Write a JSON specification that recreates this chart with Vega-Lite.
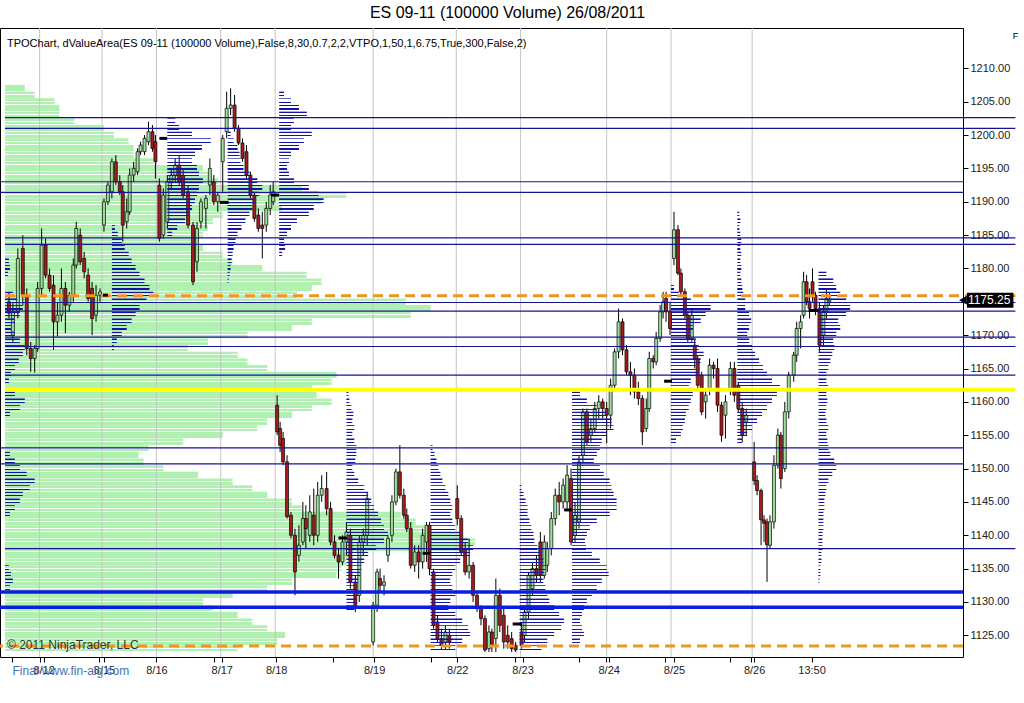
{
"$schema":"https://vega.github.io/schema/vega-lite/v6.json",
"width":963,"height":629,
"autosize":{"type":"none"},
"padding":{"left":0,"top":28,"right":61,"bottom":46},
"background":"white",
"config":{"font":"Liberation Sans","view":{"stroke":"black","strokeWidth":1},"axis":{"grid":false,"domain":false}},
"title":{"text":"ES 09-11 (100000 Volume)  26/08/2011","fontSize":16,"fontWeight":"normal","anchor":"middle","dx":26,"offset":7,"color":"black","font":"Liberation Sans"},
"datasets":{
"candles":[
{"t":1,"o":1175,"h":1176.5,"l":1172.5,"c":1173.3},{"t":2,"o":1170,"h":1175,"l":1169,"c":1173.5},{"t":3.25,"o":1173.5,"h":1183,"l":1172.5,"c":1181.5},{"t":4.5,"o":1183,"h":1185,"l":1174.5,"c":1176},{"t":5.5,"o":1176,"h":1177,"l":1167,"c":1168},{"t":6.5,"o":1168,"h":1169,"l":1164.5,"c":1166.5},{"t":7.5,"o":1166.5,"h":1168.5,"l":1164.4,"c":1168},{"t":8.25,"o":1168,"h":1178,"l":1167.5,"c":1177},{"t":9.25,"o":1177,"h":1186,"l":1176,"c":1183.5},{"t":10.25,"o":1183.5,"h":1184.5,"l":1178.5,"c":1179},{"t":11.25,"o":1179,"h":1180,"l":1176.5,"c":1177},{"t":12.25,"o":1177.5,"h":1179,"l":1167.8,"c":1172},{"t":13.25,"o":1172,"h":1175,"l":1169.8,"c":1173},{"t":14.25,"o":1173,"h":1180,"l":1172,"c":1177},{"t":15.25,"o":1177,"h":1178,"l":1170.3,"c":1174.5},{"t":16.25,"o":1174.5,"h":1176.5,"l":1173.5,"c":1176},{"t":17.25,"o":1176,"h":1181.5,"l":1175,"c":1180.5},{"t":18,"o":1180.5,"h":1187,"l":1180,"c":1186},{"t":19,"o":1185,"h":1186,"l":1180.5,"c":1181},{"t":20,"o":1181.5,"h":1182.5,"l":1178.5,"c":1179.5},{"t":21,"o":1179,"h":1180,"l":1175,"c":1175.5},{"t":22,"o":1177,"h":1178,"l":1170,"c":1172.5},{"t":23,"o":1173,"h":1177.5,"l":1172,"c":1176},{"t":24,"o":1176,"h":1177,"l":1175,"c":1176.5},
{"t":25,"o":1186.5,"h":1190.5,"l":1185.5,"c":1190},{"t":26,"o":1190,"h":1193,"l":1189.5,"c":1192.5},{"t":27,"o":1191.5,"h":1196.5,"l":1190.5,"c":1196},{"t":28,"o":1196,"h":1197,"l":1192.5,"c":1193},{"t":29,"o":1193,"h":1194,"l":1191,"c":1191.5},{"t":29.75,"o":1191.5,"h":1192.5,"l":1184,"c":1186.5},{"t":30.75,"o":1187,"h":1190.5,"l":1186,"c":1188.5},{"t":31.5,"o":1188.5,"h":1195,"l":1188,"c":1194},{"t":32.5,"o":1194,"h":1196,"l":1193,"c":1195},{"t":33.5,"o":1194.5,"h":1198,"l":1194,"c":1197.5},{"t":34.25,"o":1197.5,"h":1199,"l":1197,"c":1198.5},{"t":35.25,"o":1197.5,"h":1200,"l":1197,"c":1199.5},{"t":36.25,"o":1199,"h":1202,"l":1198.5,"c":1200.5},{"t":37.25,"o":1200.5,"h":1201.5,"l":1197.5,"c":1198},{"t":38,"o":1199,"h":1200,"l":1193.5,"c":1196},
{"t":39,"o":1192.5,"h":1193.5,"l":1184,"c":1184.5},{"t":40,"o":1185,"h":1192,"l":1184.5,"c":1191},{"t":41,"o":1187,"h":1194,"l":1186,"c":1193},{"t":42,"o":1193,"h":1195,"l":1192,"c":1194},{"t":43,"o":1194,"h":1196.5,"l":1193,"c":1195.5},{"t":44,"o":1195.5,"h":1197,"l":1192.5,"c":1193},{"t":45,"o":1194,"h":1195,"l":1190.5,"c":1191},{"t":46.25,"o":1191.5,"h":1192.5,"l":1186,"c":1186.5},{"t":47.5,"o":1186.5,"h":1187,"l":1177.5,"c":1178},{"t":48.5,"o":1181,"h":1187,"l":1179.5,"c":1186},{"t":49.5,"o":1187,"h":1190.5,"l":1186,"c":1190},{"t":50.75,"o":1189,"h":1191,"l":1186,"c":1190.5},{"t":51.75,"o":1192.5,"h":1196.5,"l":1191,"c":1195},{"t":52.75,"o":1193,"h":1194,"l":1189.5,"c":1190},{"t":53.75,"o":1190,"h":1191.5,"l":1188.5,"c":1191},
{"t":55,"o":1196,"h":1200,"l":1191.5,"c":1199.5},{"t":56,"o":1200.5,"h":1206.5,"l":1199.5,"c":1204},{"t":57,"o":1204,"h":1207,"l":1203,"c":1204.5},{"t":58,"o":1204.5,"h":1206,"l":1200.5,"c":1201},{"t":59,"o":1201,"h":1201.5,"l":1198.5,"c":1198.8},{"t":60,"o":1198.8,"h":1199.5,"l":1196,"c":1196.5},{"t":61,"o":1197.5,"h":1198.5,"l":1193.5,"c":1194},{"t":62,"o":1194,"h":1194.5,"l":1190.5,"c":1191},{"t":63,"o":1191,"h":1191.5,"l":1187,"c":1187.5},{"t":64,"o":1188,"h":1189,"l":1185.5,"c":1186},{"t":65,"o":1186.5,"h":1188.5,"l":1181.5,"c":1186},{"t":66,"o":1186.5,"h":1190,"l":1185.5,"c":1189},{"t":67,"o":1189,"h":1192.5,"l":1188,"c":1191},{"t":67.75,"o":1190,"h":1193,"l":1189.5,"c":1191.5},
{"t":68.75,"o":1159.5,"h":1161,"l":1155,"c":1155.5},{"t":69.5,"o":1156,"h":1157,"l":1152.5,"c":1153.5},{"t":70.25,"o":1154.5,"h":1155.5,"l":1150.5,"c":1151},{"t":71.25,"o":1151,"h":1152,"l":1142.5,"c":1142.8},{"t":72.25,"o":1143,"h":1143.5,"l":1139.5,"c":1140},{"t":73.25,"o":1140,"h":1141,"l":1131,"c":1134.5},{"t":74.25,"o":1137,"h":1141.5,"l":1136,"c":1138.5},{"t":75.25,"o":1139,"h":1145,"l":1138.5,"c":1142.5},{"t":76,"o":1142.5,"h":1144.5,"l":1138,"c":1141},{"t":77,"o":1140,"h":1146,"l":1139,"c":1143.5},{"t":78,"o":1143,"h":1147,"l":1138.5,"c":1140},{"t":79,"o":1140,"h":1148,"l":1139,"c":1146},{"t":80,"o":1146,"h":1149,"l":1145,"c":1147},{"t":81.25,"o":1147,"h":1149.5,"l":1143,"c":1144},{"t":82.25,"o":1144,"h":1145,"l":1138.5,"c":1139},{"t":83.25,"o":1139,"h":1140,"l":1136.5,"c":1137},{"t":84.25,"o":1137,"h":1138,"l":1133.5,"c":1136},{"t":85.25,"o":1136,"h":1140,"l":1135.5,"c":1139},{"t":86.25,"o":1139,"h":1142,"l":1137,"c":1140.5},{"t":87.25,"o":1140,"h":1141,"l":1132,"c":1133},{"t":88.5,"o":1133,"h":1134,"l":1128.5,"c":1129.5},{"t":89.5,"o":1131,"h":1140,"l":1130,"c":1139},{"t":90.5,"o":1139,"h":1141,"l":1137,"c":1140},{"t":91.5,"o":1140,"h":1146.5,"l":1138.5,"c":1145.5},
{"t":93,"o":1124,"h":1130,"l":1123.5,"c":1129.5},{"t":94,"o":1129.5,"h":1135,"l":1128.5,"c":1134.5},{"t":94.75,"o":1133.5,"h":1135,"l":1131.5,"c":1132.5},{"t":95.75,"o":1132.5,"h":1134,"l":1131,"c":1133},{"t":96.75,"o":1137,"h":1140,"l":1136,"c":1139.5},{"t":97.75,"o":1140,"h":1146,"l":1139,"c":1145},{"t":98.75,"o":1145,"h":1150,"l":1144.5,"c":1149.5},{"t":99.75,"o":1149.5,"h":1153.5,"l":1145.5,"c":1146},{"t":100.75,"o":1146,"h":1147,"l":1142.5,"c":1143},{"t":101.5,"o":1143,"h":1144,"l":1140.5,"c":1141},{"t":102.5,"o":1141,"h":1142,"l":1135,"c":1135.5},{"t":103.5,"o":1135.5,"h":1138.5,"l":1134.5,"c":1137.5},{"t":104.5,"o":1137.5,"h":1138.5,"l":1133.5,"c":1136},{"t":105.5,"o":1136,"h":1141,"l":1135,"c":1140},{"t":106.5,"o":1139,"h":1142,"l":1136,"c":1141.5},{"t":107.25,"o":1141.5,"h":1142,"l":1134,"c":1135},{"t":108.25,"o":1134.5,"h":1135,"l":1126,"c":1126.5},{"t":109.25,"o":1127,"h":1128,"l":1124,"c":1124.5},{"t":110.25,"o":1124.5,"h":1126,"l":1122.8,"c":1123.5},{"t":111.25,"o":1124,"h":1126.5,"l":1122.8,"c":1125.5},{"t":112.25,"o":1125,"h":1126,"l":1123,"c":1124},
{"t":114.25,"o":1145.5,"h":1147.5,"l":1141.5,"c":1142.5},{"t":115.25,"o":1142.5,"h":1143,"l":1137,"c":1137.5},{"t":116.25,"o":1138,"h":1139,"l":1134,"c":1134.5},{"t":117.25,"o":1134.5,"h":1139.5,"l":1133.5,"c":1135.5},{"t":118.25,"o":1135.5,"h":1136,"l":1130,"c":1131},{"t":119.25,"o":1131,"h":1131.5,"l":1128.5,"c":1129},{"t":120.25,"o":1129,"h":1129.5,"l":1126.5,"c":1127.5},{"t":121.25,"o":1127.5,"h":1128,"l":1122.5,"c":1122.8},{"t":122.25,"o":1123,"h":1126.5,"l":1122.5,"c":1125.5},{"t":123,"o":1125.5,"h":1126,"l":1122.5,"c":1123.5},{"t":124,"o":1124.5,"h":1133.5,"l":1122.5,"c":1131},{"t":125,"o":1131,"h":1132,"l":1125.5,"c":1126.5},{"t":126,"o":1128,"h":1129,"l":1123,"c":1124},{"t":127,"o":1125,"h":1126.5,"l":1123,"c":1124},{"t":128,"o":1124.5,"h":1125.5,"l":1122.5,"c":1123},{"t":129,"o":1123.5,"h":1124,"l":1122.5,"c":1122.8},
{"t":130.5,"o":1125.5,"h":1127,"l":1123,"c":1123.5},{"t":131.25,"o":1125,"h":1129.5,"l":1124,"c":1128.5},{"t":132.25,"o":1128.5,"h":1134.5,"l":1127.5,"c":1134},{"t":133.25,"o":1132,"h":1136,"l":1131,"c":1135},{"t":134.25,"o":1135,"h":1137,"l":1133,"c":1134},{"t":135.25,"o":1139,"h":1140.5,"l":1133,"c":1134},{"t":136.25,"o":1134,"h":1140,"l":1133.5,"c":1139},{"t":137,"o":1135.5,"h":1139,"l":1134.5,"c":1138},{"t":138,"o":1138,"h":1143.5,"l":1137,"c":1142.5},{"t":139,"o":1142.5,"h":1147,"l":1141.5,"c":1146},{"t":140,"o":1146,"h":1148,"l":1143,"c":1145},{"t":141,"o":1145,"h":1148.5,"l":1144,"c":1147.5},{"t":142,"o":1145,"h":1150.5,"l":1144,"c":1149},{"t":143,"o":1148.5,"h":1150,"l":1138.5,"c":1139},{"t":144,"o":1140,"h":1145,"l":1139,"c":1143},{"t":145,"o":1142,"h":1152,"l":1141,"c":1151},{"t":146,"o":1152,"h":1159,"l":1151,"c":1158.5},{"t":147,"o":1158.5,"h":1159,"l":1153.5,"c":1154},{"t":148,"o":1155,"h":1157.5,"l":1154,"c":1156},{"t":149,"o":1156,"h":1160,"l":1155.5,"c":1159},{"t":150,"o":1159,"h":1161,"l":1157.5,"c":1160},{"t":151,"o":1160,"h":1160.5,"l":1157.5,"c":1159},{"t":152,"o":1159,"h":1160,"l":1153.8,"c":1158},
{"t":153,"o":1158,"h":1163.5,"l":1156,"c":1162.5},{"t":154,"o":1162.5,"h":1168,"l":1162,"c":1167.5},{"t":155,"o":1167.5,"h":1174,"l":1166.5,"c":1172},{"t":156,"o":1172,"h":1172.5,"l":1167,"c":1167.8},{"t":157,"o":1167.8,"h":1168.5,"l":1164,"c":1164.5},{"t":158,"o":1164.5,"h":1166,"l":1161,"c":1164},{"t":159,"o":1164,"h":1165,"l":1160.5,"c":1161.5},{"t":160,"o":1161.5,"h":1163,"l":1159.5,"c":1160.5},{"t":161,"o":1160.5,"h":1161,"l":1153.5,"c":1155.5},{"t":162,"o":1156,"h":1160.5,"l":1155.5,"c":1159},{"t":162.75,"o":1159,"h":1167.5,"l":1158.5,"c":1166.5},{"t":163.75,"o":1166.5,"h":1167,"l":1165,"c":1166},{"t":164.5,"o":1166,"h":1170.5,"l":1165.5,"c":1169.5},{"t":165.5,"o":1169.5,"h":1174.5,"l":1169,"c":1173.5},{"t":166.25,"o":1173.5,"h":1176.5,"l":1172.5,"c":1175},{"t":167,"o":1175.5,"h":1176.5,"l":1172,"c":1173.5},{"t":168,"o":1173.5,"h":1175,"l":1170,"c":1171},
{"t":169,"o":1181.5,"h":1188.5,"l":1180.5,"c":1185.8},{"t":170,"o":1185.8,"h":1186.5,"l":1179,"c":1179.3},{"t":170.75,"o":1179.3,"h":1180,"l":1176,"c":1176.5},{"t":171.75,"o":1176.5,"h":1177,"l":1172.5,"c":1173},{"t":172.5,"o":1173,"h":1173.5,"l":1169,"c":1169.5},{"t":173.5,"o":1169.5,"h":1174,"l":1169,"c":1173},{"t":174.25,"o":1168.5,"h":1169.5,"l":1165,"c":1166.5},{"t":175,"o":1166.5,"h":1167,"l":1162,"c":1162.5},{"t":176,"o":1164,"h":1164.5,"l":1158,"c":1158.5},{"t":177,"o":1160,"h":1162,"l":1157.5,"c":1161},{"t":178,"o":1162,"h":1166.5,"l":1161,"c":1165.5},{"t":179,"o":1165.5,"h":1166,"l":1163.5,"c":1165},{"t":180,"o":1165,"h":1166.5,"l":1158.5,"c":1159.5},{"t":181,"o":1159.5,"h":1160,"l":1154,"c":1155},{"t":182,"o":1158,"h":1161,"l":1154.5,"c":1160},{"t":183.25,"o":1162,"h":1166,"l":1161,"c":1165},{"t":184.25,"o":1165,"h":1166,"l":1160,"c":1161},{"t":185.25,"o":1162.5,"h":1163,"l":1158.5,"c":1159},{"t":186.25,"o":1159,"h":1160,"l":1154,"c":1155},{"t":187.25,"o":1157,"h":1159,"l":1155,"c":1158},
{"t":189.25,"o":1151,"h":1154,"l":1147.5,"c":1148.2},{"t":190,"o":1148.2,"h":1149,"l":1146,"c":1146.7},{"t":191,"o":1146.7,"h":1147,"l":1138.5,"c":1142.3},{"t":191.75,"o":1142.3,"h":1143,"l":1139,"c":1141.8},{"t":192.5,"o":1142,"h":1142.5,"l":1133,"c":1138.6},{"t":193.25,"o":1138.5,"h":1143,"l":1138,"c":1142},{"t":194.25,"o":1142,"h":1152,"l":1141,"c":1150.5},{"t":195.25,"o":1150.5,"h":1156,"l":1150,"c":1155},{"t":196,"o":1155,"h":1155.5,"l":1147,"c":1148.5},{"t":197,"o":1150,"h":1160,"l":1149.5,"c":1158.5},{"t":198,"o":1158.5,"h":1164.5,"l":1157.5,"c":1164},{"t":199.25,"o":1164,"h":1167.5,"l":1163,"c":1167},{"t":200,"o":1167,"h":1172,"l":1166,"c":1171},{"t":201,"o":1171,"h":1173,"l":1168,"c":1172},{"t":201.75,"o":1173,"h":1179.5,"l":1172.5,"c":1178},{"t":202.5,"o":1178,"h":1179,"l":1174.5,"c":1175},{"t":203.25,"o":1175,"h":1177,"l":1172.5,"c":1174},{"t":204,"o":1178,"h":1180,"l":1175,"c":1176},{"t":204.75,"o":1176,"h":1176.5,"l":1173,"c":1174},{"t":205.75,"o":1174,"h":1175,"l":1167.5,"c":1168.5},{"t":206.75,"o":1170,"h":1174.5,"l":1168.5,"c":1173.5},{"t":207.5,"o":1173.5,"h":1177,"l":1172.5,"c":1175.5},{"t":208.25,"o":1175,"h":1176.5,"l":1174.5,"c":1175.25}
],
"green":[
{"p":1207,"v":20},{"p":1206,"v":30},{"p":1205,"v":50},{"p":1204,"v":55},{"p":1203,"v":55},{"p":1202,"v":70},{"p":1201,"v":100},{"p":1200,"v":110},{"p":1199,"v":125},{"p":1198,"v":130},{"p":1197,"v":130},{"p":1196,"v":150},{"p":1195,"v":200},{"p":1194,"v":205},{"p":1193,"v":215},{"p":1192,"v":300},{"p":1191,"v":345},{"p":1190,"v":320},{"p":1189,"v":280},{"p":1188,"v":220},{"p":1187,"v":210},{"p":1186,"v":205},{"p":1185,"v":200},{"p":1184,"v":195},{"p":1183,"v":200},{"p":1182,"v":220},{"p":1181,"v":230},{"p":1180,"v":260},{"p":1179,"v":305},{"p":1178,"v":320},{"p":1177,"v":310},{"p":1176,"v":295},{"p":1175,"v":405},{"p":1174,"v":430},{"p":1173,"v":410},{"p":1172,"v":310},{"p":1171,"v":290},{"p":1170,"v":245},{"p":1169,"v":205},{"p":1168,"v":185},{"p":1167,"v":235},{"p":1166,"v":245},{"p":1165,"v":265},{"p":1164,"v":335},{"p":1163,"v":330},{"p":1162,"v":310},{"p":1161,"v":315},{"p":1160,"v":330},{"p":1159,"v":310},{"p":1158,"v":290},{"p":1157,"v":265},{"p":1156,"v":255},{"p":1155,"v":220},{"p":1154,"v":180},{"p":1153,"v":145},{"p":1152,"v":135},{"p":1151,"v":140},{"p":1150,"v":160},{"p":1149,"v":195},{"p":1148,"v":230},{"p":1147,"v":250},{"p":1146,"v":265},{"p":1145,"v":290},{"p":1144,"v":300},{"p":1143,"v":400},{"p":1142,"v":415},{"p":1141,"v":430},{"p":1140,"v":460},{"p":1139,"v":475},{"p":1138,"v":470},{"p":1137,"v":350},{"p":1136,"v":345},{"p":1135,"v":340},{"p":1134,"v":335},{"p":1133,"v":290},{"p":1132,"v":265},{"p":1131,"v":230},{"p":1130,"v":200},{"p":1129,"v":210},{"p":1128,"v":235},{"p":1127,"v":250},{"p":1126,"v":265},{"p":1125,"v":283},{"p":1124,"v":275},{"p":1123,"v":235}
],
"prof":[
{"s":0,"p":1181,"v":4},{"s":0,"p":1180,"v":5},{"s":0,"p":1179,"v":3},{"s":0,"p":1176,"v":8},{"s":0,"p":1175,"v":12},{"s":0,"p":1174,"v":18},{"s":0,"p":1173,"v":15},{"s":0,"p":1172,"v":10},{"s":0,"p":1171,"v":6},{"s":0,"p":1170,"v":10},{"s":0,"p":1169,"v":15},{"s":0,"p":1168,"v":20},{"s":0,"p":1167,"v":18},{"s":0,"p":1166,"v":14},{"s":0,"p":1165,"v":10},{"s":0,"p":1164,"v":6},{"s":0,"p":1163,"v":4},{"s":0,"p":1161,"v":10},{"s":0,"p":1160,"v":20},{"s":0,"p":1159,"v":15},{"s":0,"p":1158,"v":5},{"s":0,"p":1152,"v":5},{"s":0,"p":1151,"v":10},{"s":0,"p":1150,"v":15},{"s":0,"p":1149,"v":22},{"s":0,"p":1148,"v":30},{"s":0,"p":1147,"v":25},{"s":0,"p":1146,"v":18},{"s":0,"p":1145,"v":15},{"s":0,"p":1144,"v":10},{"s":0,"p":1143,"v":5},{"s":0,"p":1135,"v":4},{"s":0,"p":1134,"v":6},{"s":0,"p":1133,"v":8},{"s":0,"p":1132,"v":5},
{"s":27,"p":1186,"v":3},{"s":27,"p":1185,"v":6},{"s":27,"p":1184,"v":10},{"s":27,"p":1183,"v":13},{"s":27,"p":1182,"v":17},{"s":27,"p":1181,"v":20},{"s":27,"p":1180,"v":24},{"s":27,"p":1179,"v":28},{"s":27,"p":1178,"v":33},{"s":27,"p":1177,"v":38},{"s":27,"p":1176,"v":42},{"s":27,"p":1175,"v":35},{"s":27,"p":1174,"v":28},{"s":27,"p":1173,"v":24},{"s":27,"p":1172,"v":20},{"s":27,"p":1171,"v":15},{"s":27,"p":1170,"v":10},{"s":27,"p":1169,"v":5},{"s":27,"p":1168,"v":2},
{"s":41,"p":1202,"v":8},{"s":41,"p":1201,"v":12},{"s":41,"p":1200,"v":25},{"s":41,"p":1199,"v":44},{"s":41,"p":1198,"v":35},{"s":41,"p":1197,"v":28},{"s":41,"p":1196,"v":25},{"s":41,"p":1195,"v":30},{"s":41,"p":1194,"v":32},{"s":41,"p":1193,"v":36},{"s":41,"p":1192,"v":32},{"s":41,"p":1191,"v":30},{"s":41,"p":1190,"v":28},{"s":41,"p":1189,"v":25},{"s":41,"p":1188,"v":22},{"s":41,"p":1187,"v":18},{"s":41,"p":1186,"v":10},{"s":41,"p":1185,"v":5},
{"s":56.25,"p":1200,"v":3},{"s":56.25,"p":1199,"v":6},{"s":56.25,"p":1198,"v":10},{"s":56.25,"p":1197,"v":12},{"s":56.25,"p":1196,"v":13},{"s":56.25,"p":1195,"v":16},{"s":56.25,"p":1194,"v":22},{"s":56.25,"p":1193,"v":30},{"s":56.25,"p":1192,"v":35},{"s":56.25,"p":1191,"v":32},{"s":56.25,"p":1190,"v":27},{"s":56.25,"p":1189,"v":25},{"s":56.25,"p":1188,"v":22},{"s":56.25,"p":1187,"v":18},{"s":56.25,"p":1186,"v":14},{"s":56.25,"p":1185,"v":10},{"s":56.25,"p":1184,"v":8},{"s":56.25,"p":1183,"v":6},{"s":56.25,"p":1182,"v":5},{"s":56.25,"p":1181,"v":4},{"s":56.25,"p":1180,"v":3},{"s":56.25,"p":1179,"v":2},{"s":56.25,"p":1178,"v":1},
{"s":69.25,"p":1206,"v":5},{"s":69.25,"p":1205,"v":12},{"s":69.25,"p":1204,"v":20},{"s":69.25,"p":1203,"v":28},{"s":69.25,"p":1202,"v":15},{"s":69.25,"p":1201,"v":12},{"s":69.25,"p":1200,"v":33},{"s":69.25,"p":1199,"v":25},{"s":69.25,"p":1198,"v":20},{"s":69.25,"p":1197,"v":12},{"s":69.25,"p":1196,"v":10},{"s":69.25,"p":1195,"v":8},{"s":69.25,"p":1194,"v":10},{"s":69.25,"p":1193,"v":15},{"s":69.25,"p":1192,"v":30},{"s":69.25,"p":1191,"v":40},{"s":69.25,"p":1190,"v":45},{"s":69.25,"p":1189,"v":35},{"s":69.25,"p":1188,"v":30},{"s":69.25,"p":1187,"v":18},{"s":69.25,"p":1186,"v":12},{"s":69.25,"p":1185,"v":8},{"s":69.25,"p":1184,"v":5},{"s":69.25,"p":1183,"v":6},{"s":69.25,"p":1182,"v":3},
{"s":86.25,"p":1161,"v":2},{"s":86.25,"p":1160,"v":3},{"s":86.25,"p":1159,"v":5},{"s":86.25,"p":1158,"v":7},{"s":86.25,"p":1157,"v":6},{"s":86.25,"p":1156,"v":8},{"s":86.25,"p":1155,"v":6},{"s":86.25,"p":1154,"v":8},{"s":86.25,"p":1153,"v":10},{"s":86.25,"p":1152,"v":10},{"s":86.25,"p":1151,"v":9},{"s":86.25,"p":1150,"v":6},{"s":86.25,"p":1149,"v":8},{"s":86.25,"p":1148,"v":12},{"s":86.25,"p":1147,"v":18},{"s":86.25,"p":1146,"v":22},{"s":86.25,"p":1145,"v":25},{"s":86.25,"p":1144,"v":28},{"s":86.25,"p":1143,"v":32},{"s":86.25,"p":1142,"v":35},{"s":86.25,"p":1141,"v":38},{"s":86.25,"p":1140,"v":42},{"s":86.25,"p":1139,"v":38},{"s":86.25,"p":1138,"v":30},{"s":86.25,"p":1137,"v":22},{"s":86.25,"p":1136,"v":18},{"s":86.25,"p":1135,"v":15},{"s":86.25,"p":1134,"v":14},{"s":86.25,"p":1133,"v":12},{"s":86.25,"p":1132,"v":10},{"s":86.25,"p":1131,"v":12},{"s":86.25,"p":1130,"v":10},{"s":86.25,"p":1129,"v":8},
{"s":107.5,"p":1153,"v":2},{"s":107.5,"p":1152,"v":4},{"s":107.5,"p":1151,"v":6},{"s":107.5,"p":1150,"v":8},{"s":107.5,"p":1149,"v":10},{"s":107.5,"p":1148,"v":12},{"s":107.5,"p":1147,"v":15},{"s":107.5,"p":1146,"v":18},{"s":107.5,"p":1145,"v":20},{"s":107.5,"p":1144,"v":22},{"s":107.5,"p":1143,"v":20},{"s":107.5,"p":1142,"v":22},{"s":107.5,"p":1141,"v":25},{"s":107.5,"p":1140,"v":30},{"s":107.5,"p":1139,"v":38},{"s":107.5,"p":1138,"v":43},{"s":107.5,"p":1137,"v":40},{"s":107.5,"p":1136,"v":30},{"s":107.5,"p":1135,"v":25},{"s":107.5,"p":1134,"v":22},{"s":107.5,"p":1133,"v":20},{"s":107.5,"p":1132,"v":22},{"s":107.5,"p":1131,"v":25},{"s":107.5,"p":1130,"v":20},{"s":107.5,"p":1129,"v":18},{"s":107.5,"p":1128,"v":25},{"s":107.5,"p":1127,"v":32},{"s":107.5,"p":1126,"v":38},{"s":107.5,"p":1125,"v":40},{"s":107.5,"p":1124,"v":32},{"s":107.5,"p":1123,"v":25},
{"s":130,"p":1147,"v":2},{"s":130,"p":1146,"v":4},{"s":130,"p":1145,"v":6},{"s":130,"p":1144,"v":8},{"s":130,"p":1143,"v":8},{"s":130,"p":1142,"v":10},{"s":130,"p":1141,"v":12},{"s":130,"p":1140,"v":14},{"s":130,"p":1139,"v":15},{"s":130,"p":1138,"v":18},{"s":130,"p":1137,"v":22},{"s":130,"p":1136,"v":24},{"s":130,"p":1135,"v":26},{"s":130,"p":1134,"v":25},{"s":130,"p":1133,"v":24},{"s":130,"p":1132,"v":26},{"s":130,"p":1131,"v":28},{"s":130,"p":1130,"v":30},{"s":130,"p":1129,"v":35},{"s":130,"p":1128,"v":40},{"s":130,"p":1127,"v":45},{"s":130,"p":1126,"v":42},{"s":130,"p":1125,"v":35},{"s":130,"p":1124,"v":28},{"s":130,"p":1123,"v":22},
{"s":143.25,"p":1161,"v":8},{"s":143.25,"p":1160,"v":15},{"s":143.25,"p":1159,"v":25},{"s":143.25,"p":1158,"v":35},{"s":143.25,"p":1157,"v":40},{"s":143.25,"p":1156,"v":42},{"s":143.25,"p":1155,"v":35},{"s":143.25,"p":1154,"v":30},{"s":143.25,"p":1153,"v":28},{"s":143.25,"p":1152,"v":25},{"s":143.25,"p":1151,"v":22},{"s":143.25,"p":1150,"v":28},{"s":143.25,"p":1149,"v":32},{"s":143.25,"p":1148,"v":38},{"s":143.25,"p":1147,"v":40},{"s":143.25,"p":1146,"v":42},{"s":143.25,"p":1145,"v":45},{"s":143.25,"p":1144,"v":45},{"s":143.25,"p":1143,"v":38},{"s":143.25,"p":1142,"v":25},{"s":143.25,"p":1141,"v":18},{"s":143.25,"p":1140,"v":15},{"s":143.25,"p":1139,"v":13},{"s":143.25,"p":1138,"v":14},{"s":143.25,"p":1137,"v":20},{"s":143.25,"p":1136,"v":28},{"s":143.25,"p":1135,"v":35},{"s":143.25,"p":1134,"v":37},{"s":143.25,"p":1133,"v":30},{"s":143.25,"p":1132,"v":25},{"s":143.25,"p":1131,"v":20},{"s":143.25,"p":1130,"v":15},{"s":143.25,"p":1129,"v":12},{"s":143.25,"p":1128,"v":10},{"s":143.25,"p":1127,"v":8},{"s":143.25,"p":1126,"v":10},{"s":143.25,"p":1125,"v":12},{"s":143.25,"p":1124,"v":8},
{"s":168.25,"p":1177,"v":3},{"s":168.25,"p":1176,"v":8},{"s":168.25,"p":1175,"v":20},{"s":168.25,"p":1174,"v":40},{"s":168.25,"p":1173,"v":35},{"s":168.25,"p":1172,"v":30},{"s":168.25,"p":1171,"v":22},{"s":168.25,"p":1170,"v":20},{"s":168.25,"p":1169,"v":25},{"s":168.25,"p":1168,"v":28},{"s":168.25,"p":1167,"v":33},{"s":168.25,"p":1166,"v":30},{"s":168.25,"p":1165,"v":25},{"s":168.25,"p":1164,"v":28},{"s":168.25,"p":1163,"v":20},{"s":168.25,"p":1162,"v":18},{"s":168.25,"p":1161,"v":22},{"s":168.25,"p":1160,"v":20},{"s":168.25,"p":1159,"v":18},{"s":168.25,"p":1158,"v":15},{"s":168.25,"p":1157,"v":14},{"s":168.25,"p":1156,"v":12},{"s":168.25,"p":1155,"v":10},{"s":168.25,"p":1154,"v":5},
{"s":185,"p":1188,"v":2},{"s":185,"p":1187,"v":3},{"s":185,"p":1186,"v":2},{"s":185,"p":1185,"v":3},{"s":185,"p":1184,"v":4},{"s":185,"p":1183,"v":3},{"s":185,"p":1182,"v":4},{"s":185,"p":1181,"v":3},{"s":185,"p":1180,"v":4},{"s":185,"p":1179,"v":3},{"s":185,"p":1178,"v":4},{"s":185,"p":1177,"v":5},{"s":185,"p":1176,"v":6},{"s":185,"p":1175,"v":8},{"s":185,"p":1174,"v":8},{"s":185,"p":1173,"v":12},{"s":185,"p":1172,"v":14},{"s":185,"p":1171,"v":12},{"s":185,"p":1170,"v":10},{"s":185,"p":1169,"v":12},{"s":185,"p":1168,"v":15},{"s":185,"p":1167,"v":18},{"s":185,"p":1166,"v":22},{"s":185,"p":1165,"v":26},{"s":185,"p":1164,"v":30},{"s":185,"p":1163,"v":35},{"s":185,"p":1162,"v":43},{"s":185,"p":1161,"v":40},{"s":185,"p":1160,"v":35},{"s":185,"p":1159,"v":30},{"s":185,"p":1158,"v":25},{"s":185,"p":1157,"v":20},{"s":185,"p":1156,"v":15},{"s":185,"p":1155,"v":10},{"s":185,"p":1154,"v":5},
{"s":205.5,"p":1179,"v":8},{"s":205.5,"p":1178,"v":15},{"s":205.5,"p":1177,"v":18},{"s":205.5,"p":1176,"v":22},{"s":205.5,"p":1175,"v":28},{"s":205.5,"p":1174,"v":32},{"s":205.5,"p":1173,"v":28},{"s":205.5,"p":1172,"v":20},{"s":205.5,"p":1171,"v":22},{"s":205.5,"p":1170,"v":18},{"s":205.5,"p":1169,"v":15},{"s":205.5,"p":1168,"v":16},{"s":205.5,"p":1167,"v":14},{"s":205.5,"p":1166,"v":12},{"s":205.5,"p":1165,"v":10},{"s":205.5,"p":1164,"v":8},{"s":205.5,"p":1163,"v":8},{"s":205.5,"p":1162,"v":10},{"s":205.5,"p":1161,"v":8},{"s":205.5,"p":1160,"v":9},{"s":205.5,"p":1159,"v":8},{"s":205.5,"p":1158,"v":7},{"s":205.5,"p":1157,"v":8},{"s":205.5,"p":1156,"v":10},{"s":205.5,"p":1155,"v":8},{"s":205.5,"p":1154,"v":9},{"s":205.5,"p":1153,"v":10},{"s":205.5,"p":1152,"v":12},{"s":205.5,"p":1151,"v":16},{"s":205.5,"p":1150,"v":18},{"s":205.5,"p":1149,"v":14},{"s":205.5,"p":1148,"v":10},{"s":205.5,"p":1147,"v":8},{"s":205.5,"p":1146,"v":7},{"s":205.5,"p":1145,"v":6},{"s":205.5,"p":1144,"v":6},{"s":205.5,"p":1143,"v":5},{"s":205.5,"p":1142,"v":5},{"s":205.5,"p":1141,"v":5},{"s":205.5,"p":1140,"v":4},{"s":205.5,"p":1139,"v":4},{"s":205.5,"p":1138,"v":4},{"s":205.5,"p":1137,"v":3},{"s":205.5,"p":1136,"v":3},{"s":205.5,"p":1135,"v":2},{"s":205.5,"p":1134,"v":2},{"s":205.5,"p":1133,"v":1}
],
"levels":[
{"p":1202.6,"k":"thin","ext":1},{"p":1201.0,"k":"thin","ext":1},{"p":1193.0,"k":"thin","ext":0},{"p":1191.4,"k":"thin","ext":0},{"p":1184.6,"k":"thin","ext":1},{"p":1183.6,"k":"thin","ext":1},{"p":1174.9,"k":"thin","ext":1},{"p":1173.6,"k":"thin","ext":1},{"p":1169.7,"k":"thin","ext":1},{"p":1168.3,"k":"thin","ext":1},{"p":1164.0,"k":"thin","ext":1},{"p":1153.1,"k":"thin","ext":0},{"p":1150.7,"k":"thin","ext":0},{"p":1138.0,"k":"thin","ext":1},
{"p":1131.5,"k":"thick","ext":0},{"p":1129.2,"k":"thick","ext":0},
{"p":1161.8,"k":"yellow","ext":1},
{"p":1175.9,"k":"orange","ext":1},{"p":1123.4,"k":"orange","ext":0}
],
"poc":[
{"a":24.75,"b":26,"p":1176},{"a":39,"b":41,"p":1199.5},{"a":54.25,"b":56.5,"p":1189.9},{"a":67.25,"b":69.25,"p":1191},{"a":84.25,"b":86.5,"p":1139.6},{"a":105.5,"b":107.5,"p":1137.3},{"a":128.25,"b":130.5,"p":1126.7},{"a":141.25,"b":143.25,"p":1143.8},{"a":166.5,"b":168.5,"p":1163.1},{"a":203,"b":205.5,"p":1173.7}
],
"grid":[{"t":8.75},{"t":24.5},{"t":38.25},{"t":54.5},{"t":68.25},{"t":93},{"t":114},{"t":130.25},{"t":152},{"t":168.25},{"t":188.75}]
},
"layer":[
{"data":{"name":"green"},
 "transform":[{"calculate":"datum.v*0.25","as":"e"}],
 "mark":{"type":"bar","orient":"horizontal","size":6.8,"color":{"gradient":"linear","x1":0,"y1":0,"x2":0,"y2":1,"stops":[{"offset":0,"color":"#b0f0b0"},{"offset":0.4,"color":"#b0f0b0"},{"offset":0.4,"color":"rgba(255,255,255,0)"},{"offset":0.5,"color":"rgba(255,255,255,0)"},{"offset":0.5,"color":"#b0f0b0"},{"offset":0.9,"color":"#b0f0b0"},{"offset":0.9,"color":"rgba(255,255,255,0)"},{"offset":1,"color":"rgba(255,255,255,0)"}]}},
 "encoding":{"x":{"field":"e","type":"quantitative","scale":{"domain":[0,240.75],"nice":false,"zero":false}},"y":{"field":"p","type":"quantitative","scale":{"domain":[1122.5,1215.3],"nice":false,"zero":false}}}},
{"data":{"name":"grid"},
 "mark":{"type":"rule","color":"#c4c4c4","strokeWidth":1},
 "encoding":{"x":{"field":"t","type":"quantitative"}}},
{"data":{"name":"candles"},
 "mark":{"type":"rule","color":"black","strokeWidth":1},
 "encoding":{
  "x":{"field":"t","type":"quantitative","axis":{"values":[1.75,8.75,9.75,23.75,25,38.25,52.75,54.75,68.5,82.75,93.25,107.5,114.25,128.75,130.75,145,151.75,152.5,166.75,169,183.25,188.5,189.25,203.75],"tickCount":60,"labelExpr":"datum.value==9.75?'8/12':datum.value==25?'8/15':datum.value==38.25?'8/16':datum.value==54.75?'8/17':datum.value==68.5?'8/18':datum.value==93.25?'8/19':datum.value==114.25?'8/22':datum.value==130.75?'8/23':datum.value==152.5?'8/24':datum.value==169?'8/25':datum.value==189.25?'8/26':datum.value==203.75?'13:50':''","labelOverlap":false,"labelFontSize":11,"labelColor":"#222","labelPadding":2,"tickSize":5,"tickColor":"black","domain":false,"grid":false,"title":"Final www.fin-alg.com","titleColor":"#3f74b4","titleFontSize":12,"titleFontWeight":"normal","titleAnchor":"start","titleAlign":"left","titleBaseline":"middle","titleX":12,"titleY":13}},
  "y":{"field":"l","type":"quantitative","axis":{"orient":"right","values":[1125,1130,1135,1140,1145,1150,1155,1160,1165,1170,1180,1185,1190,1195,1200,1205,1210],"tickCount":60,"format":".2f","labelOverlap":false,"labelFontSize":11,"labelColor":"#222","labelPadding":2,"tickSize":5,"tickColor":"black","domain":false,"grid":false,"title":"F","titleAngle":0,"titleX":52,"titleY":7,"titleFontSize":9,"titleFontWeight":"normal","titleAlign":"center","titleBaseline":"middle"}},
  "y2":{"field":"h"}}},
{"data":{"name":"candles"},
 "mark":{"type":"bar","size":3,"stroke":"black","strokeWidth":0.7},
 "encoding":{"x":{"field":"t","type":"quantitative"},"y":{"field":"o","type":"quantitative"},"y2":{"field":"c"},
  "color":{"condition":{"test":"datum.c>=datum.o","value":"#9ee09a"},"value":"#a81c1c"}}},
{"data":{"name":"prof"},
 "transform":[{"calculate":"datum.s+datum.v*0.25","as":"e"}],
 "mark":{"type":"bar","orient":"horizontal","size":6.8,"color":{"gradient":"linear","x1":0,"y1":0,"x2":0,"y2":1,"stops":[{"offset":0,"color":"#1414a8"},{"offset":0.17,"color":"#1414a8"},{"offset":0.17,"color":"rgba(255,255,255,0)"},{"offset":0.5,"color":"rgba(255,255,255,0)"},{"offset":0.5,"color":"#1414a8"},{"offset":0.67,"color":"#1414a8"},{"offset":0.67,"color":"rgba(255,255,255,0)"},{"offset":1,"color":"rgba(255,255,255,0)"}]}},
 "encoding":{"x":{"field":"s","type":"quantitative"},"x2":{"field":"e"},"y":{"field":"p","type":"quantitative"}}},
{"data":{"name":"levels"},
 "transform":[{"filter":"datum.k=='thin' && datum.ext==1"},{"calculate":"0","as":"x0"},{"calculate":"255.25","as":"x1"}],
 "mark":{"type":"rule","color":"#14149a","strokeWidth":1.2},
 "encoding":{"x":{"field":"x0","type":"quantitative"},"x2":{"field":"x1"},"y":{"field":"p","type":"quantitative"}}},
{"data":{"name":"levels"},
 "transform":[{"filter":"datum.k=='thin' && datum.ext==0"}],
 "mark":{"type":"rule","color":"#14149a","strokeWidth":1.2},
 "encoding":{"y":{"field":"p","type":"quantitative"}}},
{"data":{"name":"levels"},
 "transform":[{"filter":"datum.k=='thick'"}],
 "mark":{"type":"rule","color":"#0a1ee0","strokeWidth":3.5},
 "encoding":{"y":{"field":"p","type":"quantitative"}}},
{"data":{"name":"levels"},
 "transform":[{"filter":"datum.k=='yellow'"},{"calculate":"0","as":"x0"},{"calculate":"255.25","as":"x1"}],
 "mark":{"type":"rule","color":"#ffff00","strokeWidth":4},
 "encoding":{"x":{"field":"x0","type":"quantitative"},"x2":{"field":"x1"},"y":{"field":"p","type":"quantitative"}}},
{"data":{"name":"levels"},
 "transform":[{"filter":"datum.k=='orange' && datum.ext==1"},{"calculate":"0","as":"x0"},{"calculate":"255.25","as":"x1"}],
 "mark":{"type":"rule","color":"#f2951f","strokeWidth":3,"strokeDash":[10,6]},
 "encoding":{"x":{"field":"x0","type":"quantitative"},"x2":{"field":"x1"},"y":{"field":"p","type":"quantitative"}}},
{"data":{"name":"levels"},
 "transform":[{"filter":"datum.k=='orange' && datum.ext==0"}],
 "mark":{"type":"rule","color":"#f2951f","strokeWidth":3,"strokeDash":[10,6]},
 "encoding":{"y":{"field":"p","type":"quantitative"}}},
{"data":{"name":"poc"},
 "mark":{"type":"rule","color":"black","strokeWidth":3},
 "encoding":{"x":{"field":"a","type":"quantitative"},"x2":{"field":"b"},"y":{"field":"p","type":"quantitative"}}},
{"data":{"values":[{"p":1175.25,"txt":"1175.25"}]},
 "transform":[{"calculate":"243","as":"x0"},{"calculate":"254.75","as":"x1"},{"calculate":"242","as":"xa"},{"calculate":"243.25","as":"xt"}],
 "layer":[
  {"mark":{"type":"rule","color":"black","strokeWidth":15},
   "encoding":{"x":{"field":"x0","type":"quantitative"},"x2":{"field":"x1"},"y":{"field":"p","type":"quantitative"}}},
  {"mark":{"type":"point","shape":"triangle-left","filled":true,"color":"black","size":80,"opacity":1},
   "encoding":{"x":{"field":"xa","type":"quantitative"},"y":{"field":"p","type":"quantitative"}}},
  {"mark":{"type":"text","color":"white","fontSize":12,"align":"left","baseline":"middle"},
   "encoding":{"x":{"field":"xt","type":"quantitative"},"y":{"field":"p","type":"quantitative"},"text":{"field":"txt"}}}
 ]},
{"data":{"values":[{"txt":"TPOChart, dValueArea(ES 09-11 (100000 Volume),False,8,30,0.7,2,2,VTPO,1,50,1,6.75,True,300,False,2)","xt":0.5,"yt":1213.7}]},
 "mark":{"type":"text","color":"black","fontSize":11,"align":"left","baseline":"middle"},
 "encoding":{"x":{"field":"xt","type":"quantitative"},"y":{"field":"yt","type":"quantitative"},"text":{"field":"txt"}}},
{"data":{"values":[{"txt":"© 2011 NinjaTrader, LLC","xt":0.5,"yt":1123.5}]},
 "mark":{"type":"text","color":"#333","fontSize":12,"align":"left","baseline":"middle"},
 "encoding":{"x":{"field":"xt","type":"quantitative"},"y":{"field":"yt","type":"quantitative"},"text":{"field":"txt"}}}
]
}
